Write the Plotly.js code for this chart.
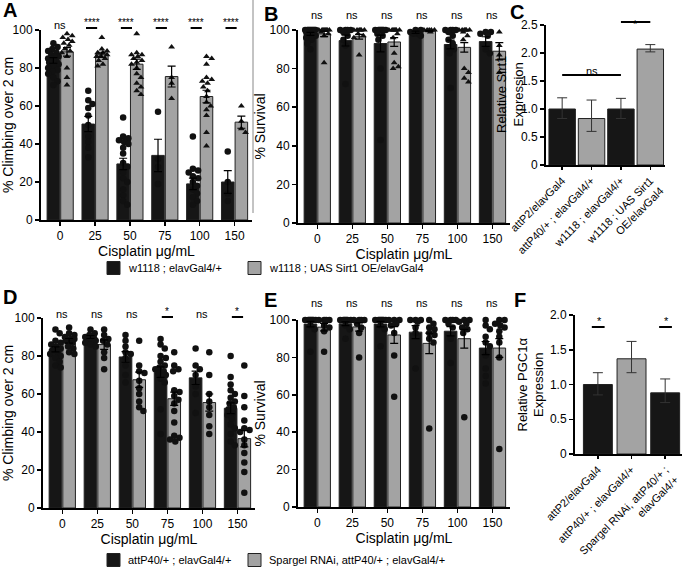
<!DOCTYPE html>
<html>
<head>
<meta charset="utf-8">
<script src="https://cdn.plot.ly/plotly-3.0.1.min.js"></script>
<style>
  body { margin: 0; background: #fff; }
  #chart { width: 688px; height: 570px; }
</style>
</head>
<body>
<div id="chart"></div>
<script>
const doses = ['0', '25', '50', '75', '100', '150'];

// A: climbing, w1118 ; elavGal4/+ vs w1118 ; UAS Sirt1 OE/elavGal4
const climbCtrlMean = [84, 50.5, 29.5, 34, 19, 20];
const climbCtrlSem = [1.5, 4, 3, 8.5, 3, 6];
const climbOeMean = [88.5, 87, 82, 75.5, 65, 51.5];
const climbOeSem = [2.2, 1.3, 2.7, 5.5, 3.3, 3.2];
const climbCtrlPts = [
  [93, 91, 90, 89, 88, 87, 86, 86, 85, 85, 84, 84, 83, 82, 81, 80, 79, 78, 77, 75, 73, 71],
  [68, 63, 61, 59, 55, 50, 44, 41, 38, 33],
  [54, 44, 43, 42, 41, 40, 38, 35, 30, 28, 25, 22, 20, 16, 13, 10, 8],
  [57, 32, 28, 19],
  [44, 27, 26, 25, 23, 22, 20, 18, 16, 14, 12, 10, 8],
  [36, 20, 14, 10]
];
const climbOePts = [
  [98, 97, 96, 95, 94, 93, 92, 90, 89, 88, 86, 80, 75, 71],
  [96, 90, 89, 88, 88, 87, 86, 86, 85, 84, 82, 81],
  [98, 88, 87, 87, 86, 85, 84, 83, 82, 80, 77, 75, 72, 70, 68, 66],
  [91, 75, 72, 64],
  [86, 85, 82, 75, 74, 73, 72, 70, 68, 65, 62, 60, 58, 55, 46, 39],
  [60, 52, 48, 46]
];
const climbSig = ['ns', '****', '****', '****', '****', '****'];

// B: survival, same genotypes
const survCtrlMean = [98, 94.5, 93, 98.8, 92.5, 94];
const survCtrlSem = [0.8, 2.8, 4.3, 0.6, 2.3, 2.5];
const survOeMean = [98, 96.5, 93.8, 99.5, 91, 89];
const survOeSem = [1.4, 1.2, 2.3, 0.3, 2.5, 4.5];
const survCtrlPts = [
  [100, 100, 100, 100, 100, 100, 100, 100, 100, 100, 99, 98, 97, 96, 95, 93, 90],
  [100, 100, 100, 100, 99, 97, 95, 92, 72],
  [100, 100, 100, 100, 100, 100, 100, 100, 98, 97, 95, 80, 43],
  [100, 100, 99, 98, 98, 97],
  [100, 100, 100, 100, 99, 97, 95, 93, 91, 90, 88, 70],
  [99, 99, 98, 97, 90, 88]
];
const survOePts = [
  [100, 100, 100, 100, 100, 100, 100, 100, 99, 98, 97, 83],
  [100, 100, 100, 100, 100, 100, 98, 97, 96, 87],
  [100, 100, 100, 100, 100, 100, 100, 98, 96, 88, 83, 81, 80],
  [100, 100, 100, 100, 100, 99],
  [100, 100, 100, 100, 100, 100, 99, 97, 95, 80, 78, 75, 73],
  [99, 92, 87, 78]
];
const survSig = ['ns', 'ns', 'ns', 'ns', 'ns', 'ns'];

// C: relative Sirt1 expression
const sirtLabels = ['attP2/elavGal4', 'attP40/+ ; elavGal4/+', 'w1118 ; elavGal4/+', 'w1118 ; UAS Sirt1<br>OE/elavGal4'];
const sirtExpr = [1.0, 0.83, 1.0, 2.07];
const sirtErrUp = [0.2, 0.33, 0.19, 0.08];
const sirtErrDown = [0.17, 0.23, 0.17, 0.05];

// D: climbing, attP40/+ ; elavGal4/+ vs Spargel RNAi
const climb2CtrlMean = [83.5, 90, 79.5, 71.5, 68.5, 52.5];
const climb2CtrlSem = [1.3, 0.8, 2.8, 2.8, 3.5, 2.8];
const climb2RnaiMean = [88, 86, 67.5, 57.5, 55.5, 36.5];
const climb2RnaiSem = [1.2, 2.5, 4, 3.5, 4.5, 4.3];
const climb2CtrlPts = [
  [94, 92, 88, 87, 86, 85, 84, 83, 82, 81, 80, 79, 77, 75, 74],
  [94, 92, 91, 90, 90, 89, 88, 87, 86, 85],
  [91, 88, 85, 82, 81, 79, 75, 70, 66],
  [89, 86, 84, 80, 79, 77, 75, 74, 73, 72, 71, 70, 68, 66, 52, 39],
  [84, 75, 73, 70, 64, 60, 50],
  [80, 69, 65, 62, 60, 58, 56, 55, 53, 52, 50, 49, 47, 44, 42, 39, 35, 33]
];
const climb2RnaiPts = [
  [95, 92, 91, 90, 89, 89, 88, 87, 85, 84, 82, 81],
  [94, 91, 89, 88, 86, 82, 79, 73],
  [88, 75, 72, 71, 67, 63, 60, 56, 53, 51],
  [82, 75, 73, 72, 62, 61, 59, 57, 55, 51, 45, 38, 37, 36, 35],
  [82, 70, 60, 56, 53, 49, 43, 39],
  [75, 59, 53, 46, 42, 41, 40, 36, 33, 29, 24, 19, 8]
];
const climb2Sig = ['ns', 'ns', 'ns', '*', 'ns', '*'];

// E: survival, attP40/+ ; elavGal4/+ vs Spargel RNAi
const surv2CtrlMean = [97.8, 98, 97.8, 93.5, 94, 85];
const surv2CtrlSem = [1.5, 1.0, 1.5, 3.5, 2.5, 3.5];
const surv2RnaiMean = [96.2, 96.3, 92, 87.5, 90, 85];
const surv2RnaiSem = [2.0, 2.2, 4.5, 5.5, 5.0, 5.0];
const surv2CtrlPts = [
  [100, 100, 100, 100, 100, 100, 100, 100, 97, 95, 83],
  [100, 100, 100, 100, 100, 100, 100, 97, 95, 90],
  [100, 100, 100, 100, 100, 100, 100, 100, 97, 95, 86],
  [100, 100, 100, 99, 96, 93, 74],
  [100, 100, 100, 100, 98, 96, 90, 77],
  [100, 97, 95, 91, 88, 86, 81, 74, 70, 66]
];
const surv2RnaiPts = [
  [100, 100, 100, 100, 97, 96, 94, 83],
  [100, 100, 100, 100, 98, 96, 93, 80],
  [100, 100, 100, 98, 97, 93, 81, 59],
  [100, 98, 96, 95, 93, 92, 90, 88, 42],
  [100, 100, 99, 98, 96, 95, 93, 48],
  [100, 100, 98, 97, 96, 94, 91, 88, 80, 31]
];
const surv2Sig = ['ns', 'ns', 'ns', 'ns', 'ns', 'ns'];

// F: relative PGC1a expression
const pgcLabels = ['attP2/elavGal4', 'attP40/+ ; elavGal4/+', 'Spargel RNAi, attP40/+ ;<br>elavGal4/+'];
const pgcExpr = [1.0, 1.37, 0.88];
const pgcErrUp = [0.17, 0.25, 0.2];
const pgcErrDown = [0.15, 0.2, 0.14];

const legendTop = ['w1118 ; elavGal4/+', 'w1118 ; UAS Sirt1 OE/elavGal4'];
const legendBottom = ['attP40/+ ; elavGal4/+', 'Spargel RNAi, attP40/+ ; elavGal4/+'];

const W = 688, H = 570;
const FONT = 'Liberation Sans, Arial, Helvetica, sans-serif';
const DARK = '#161616';
const GRAY = '#a3a3a3';
const fx = px => px / W;
const fy = py => 1 - py / H;
const font = (size, extra) => Object.assign({ family: FONT, size: size, color: '#000' }, extra || {});

// pixel boxes of the plot areas [left, top, right, bottom]
const boxes = {
  A: [41, 30, 252, 220],
  B: [298, 30, 510, 223],
  C: [546, 25, 665, 165],
  D: [43, 318, 255, 508],
  E: [298, 320, 510, 507],
  F: [575, 315, 682, 454]
};
const doseRange = [-0.55, 5.5];

const traces = [];
const layout = {
  width: W,
  height: H,
  margin: { l: 0, r: 0, t: 0, b: 0 },
  paper_bgcolor: '#fff',
  plot_bgcolor: 'rgba(0,0,0,0)',
  font: font(12),
  barmode: 'overlay',
  showlegend: false,
  annotations: [],
  shapes: []
};

function axisBase() {
  return {
    showline: true, linecolor: '#000', linewidth: 2,
    ticks: 'outside', ticklen: 4, tickwidth: 1.5, tickcolor: '#000',
    showgrid: false, zeroline: false, fixedrange: true, automargin: false,
    tickfont: font(12)
  };
}

// spread points sideways so they do not sit on top of each other
function swarm(vals, center, pxX, pxY, diam, halfW) {
  const order = vals.map((v, i) => i).sort((a, b) => vals[b] - vals[a]);
  const placed = [];
  const xs = new Array(vals.length);
  const step = 0.03;
  const cands = [0];
  for (let k = 1; k * step <= halfW; k++) cands.push(k * step, -k * step);
  order.forEach(i => {
    let best = 0, bestD = -1;
    for (const c of cands) {
      let dmin = Infinity;
      placed.forEach(p => {
        const d = Math.hypot((c - p[0]) * pxX, (vals[i] - p[1]) * pxY);
        if (d < dmin) dmin = d;
      });
      if (dmin >= diam) { best = c; break; }
      if (dmin > bestD) { bestD = dmin; best = c; }
    }
    placed.push([best, vals[i]]);
    xs[i] = center + best;
  });
  return xs;
}

function dosePanel(n, box, s1, s2, opts) {
  const xa = 'x' + n, ya = 'y' + n;
  const pxX = (box[2] - box[0]) / (doseRange[1] - doseRange[0]);
  const pxY = (box[3] - box[1]) / 100;
  const series = [
    { s: s1, off: -0.195, color: DARK, symbol: 'circle' },
    { s: s2, off: 0.195, color: GRAY, symbol: opts.symbol2 }
  ];

  series.forEach(g => {
    traces.push({
      type: 'bar', xaxis: xa, yaxis: ya,
      x: doses.map((d, i) => i + g.off), y: g.s.mean, width: 0.36,
      showlegend: false,
      marker: { color: g.color, line: { color: '#222', width: 1 } },
      hoverinfo: 'skip'
    });
  });

  series.forEach(g => {
    const xs = [], ys = [];
    g.s.pts.forEach((vals, i) => {
      swarm(vals, i + g.off, pxX, pxY, 5.5, 0.15).forEach((x, k) => {
        xs.push(x);
        ys.push(vals[k]);
      });
    });
    traces.push({
      type: 'scatter', mode: 'markers', xaxis: xa, yaxis: ya,
      x: xs, y: ys, showlegend: false, cliponaxis: false,
      marker: { symbol: g.symbol, size: g.symbol === 'circle' ? 6.5 : 6, color: '#111' },
      hoverinfo: 'skip'
    });
  });

  series.forEach(g => {
    traces.push({
      type: 'scatter', mode: 'markers', xaxis: xa, yaxis: ya,
      x: doses.map((d, i) => i + g.off), y: g.s.mean, showlegend: false,
      marker: { size: 1, opacity: 0 },
      error_y: { type: 'data', array: g.s.sem, visible: true, color: '#000', thickness: 1.2, width: 4 },
      hoverinfo: 'skip'
    });
  });

  layout['xaxis' + n] = Object.assign(axisBase(), {
    domain: [fx(box[0]), fx(box[2])], anchor: ya, range: doseRange,
    tickvals: doses.map((d, i) => i), ticktext: doses,
    title: { text: 'Cisplatin μg/mL', font: font(14), standoff: 0 }
  });
  layout['yaxis' + n] = Object.assign(axisBase(), {
    domain: [fy(box[3]), fy(box[1])], anchor: xa, range: [0, 100],
    tickvals: [0, 20, 40, 60, 80, 100],
    title: { text: opts.ytitle, font: font(14), standoff: 1 }
  });

  // significance marks above each dose
  opts.sig.forEach((txt, i) => {
    const star = txt !== 'ns';
    const shift = star ? (opts.sigShift || 0) : 0;
    layout.annotations.push({
      xref: xa, yref: 'paper', x: i + shift, y: fy(opts.sigY - (star ? 3 : 0)),
      text: txt, showarrow: false, font: font(star ? 10 : 11),
      xanchor: 'center', yanchor: 'middle'
    });
    if (star) {
      layout.shapes.push({
        type: 'line', xref: xa, yref: 'paper',
        x0: i + shift - 0.16, x1: i + shift + 0.16,
        y0: fy(opts.sigY + 3), y1: fy(opts.sigY + 3),
        line: { color: '#000', width: 2 }
      });
    }
  });
}

function exprPanel(n, box, labels, vals, up, down, colors, opts) {
  const xa = 'x' + n, ya = 'y' + n;
  traces.push({
    type: 'bar', xaxis: xa, yaxis: ya,
    x: labels.map((l, i) => i), y: vals, width: opts.barWidth,
    showlegend: false,
    marker: { color: colors, line: { color: '#222', width: 1 } },
    error_y: { type: 'data', array: up, arrayminus: down, visible: true, color: '#333', thickness: 1, width: 5 },
    hoverinfo: 'skip'
  });
  layout['xaxis' + n] = Object.assign(axisBase(), {
    domain: [fx(box[0]), fx(box[2])], anchor: ya, range: opts.xrange,
    tickvals: labels.map((l, i) => i), ticktext: labels,
    tickangle: -45, tickfont: font(11), ticklen: 3
  });
  layout['yaxis' + n] = Object.assign(axisBase(), {
    domain: [fy(box[3]), fy(box[1])], anchor: xa, range: [0, opts.ymax],
    tickvals: opts.yticks, ticktext: opts.yticks.map(v => v === 0 ? '0' : v.toFixed(1))
  });
  // y title as a rotated note, so it can sit close to the tick labels
  layout.annotations.push({
    xref: 'paper', yref: 'paper', x: fx(opts.titleX), y: fy((box[1] + box[3]) / 2),
    text: opts.ytitle, textangle: -90, showarrow: false, font: font(13),
    xanchor: 'center', yanchor: 'middle'
  });
}

dosePanel(1, boxes.A,
  { mean: climbCtrlMean, sem: climbCtrlSem, pts: climbCtrlPts },
  { mean: climbOeMean, sem: climbOeSem, pts: climbOePts },
  { ytitle: '% Climbing over 2 cm', symbol2: 'triangle-up', sig: climbSig, sigY: 25, sigShift: -0.1 });

dosePanel(2, boxes.B,
  { mean: survCtrlMean, sem: survCtrlSem, pts: survCtrlPts },
  { mean: survOeMean, sem: survOeSem, pts: survOePts },
  { ytitle: '% Survival', symbol2: 'triangle-up', sig: survSig, sigY: 15 });

exprPanel(3, boxes.C, sirtLabels, sirtExpr, sirtErrUp, sirtErrDown, [DARK, GRAY, DARK, GRAY],
  { xrange: [-0.55, 3.5], barWidth: 0.9, ymax: 2.5, yticks: [0, 0.5, 1, 1.5, 2, 2.5], ytitle: 'Relative Sirt1<br>Expression', titleX: 510 });

dosePanel(4, boxes.D,
  { mean: climb2CtrlMean, sem: climb2CtrlSem, pts: climb2CtrlPts },
  { mean: climb2RnaiMean, sem: climb2RnaiSem, pts: climb2RnaiPts },
  { ytitle: '% Climbing over 2 cm', symbol2: 'circle', sig: climb2Sig, sigY: 314 });

dosePanel(5, boxes.E,
  { mean: surv2CtrlMean, sem: surv2CtrlSem, pts: surv2CtrlPts },
  { mean: surv2RnaiMean, sem: surv2RnaiSem, pts: surv2RnaiPts },
  { ytitle: '% Survival', symbol2: 'circle', sig: surv2Sig, sigY: 303 });

exprPanel(6, boxes.F, pgcLabels, pgcExpr, pgcErrUp, pgcErrDown, [DARK, GRAY, DARK],
  { xrange: [-0.68, 2.5], barWidth: 0.86, ymax: 2.0, yticks: [0, 0.5, 1, 1.5, 2], ytitle: 'Relative PGC1α<br>Expression', titleX: 530 });

// significance in C: ns over the three controls, * for the overexpression
layout.annotations.push(
  { xref: 'x3', yref: 'paper', x: 1, y: fy(63), text: 'ns', showarrow: false, font: font(11) },
  { xref: 'x3', yref: 'paper', x: 2.5, y: fy(16), text: '*', showarrow: false, font: font(11) }
);
layout.shapes.push(
  { type: 'line', xref: 'x3', yref: 'paper', x0: 0, x1: 2, y0: fy(75), y1: fy(75), line: { color: '#000', width: 2 } },
  { type: 'line', xref: 'x3', yref: 'paper', x0: 2, x1: 3, y0: fy(22), y1: fy(22), line: { color: '#000', width: 2 } }
);

// significance in F
[0, 2].forEach(i => {
  layout.annotations.push({ xref: 'x6', yref: 'paper', x: i + 0.05, y: fy(321), text: '*', showarrow: false, font: font(11) });
  layout.shapes.push({ type: 'line', xref: 'x6', yref: 'paper', x0: i - 0.18, x1: i + 0.2, y0: fy(327), y1: fy(327), line: { color: '#000', width: 2 } });
});

// legends, one row under each line of panels
[[legendTop, 268], [legendBottom, 560]].forEach(row => {
  const names = row[0], cy = row[1];
  [[107, DARK], [248, GRAY]].forEach((item, k) => {
    layout.shapes.push({
      type: 'rect', xref: 'paper', yref: 'paper',
      x0: fx(item[0]), x1: fx(item[0] + 13), y0: fy(cy + 6.5), y1: fy(cy - 6.5),
      fillcolor: item[1], line: { color: '#222', width: 1 }
    });
    layout.annotations.push({
      xref: 'paper', yref: 'paper', x: fx(item[0] + 19), y: fy(cy),
      xanchor: 'left', yanchor: 'middle', text: names[k], showarrow: false, font: font(11)
    });
  });
});

// thin frame line between A and B
layout.shapes.push({ type: 'line', xref: 'paper', yref: 'paper', x0: fx(253), x1: fx(253), y0: fy(213), y1: 1, line: { color: '#888', width: 1 } });

// panel letters
[['A', 1, 10], ['B', 262, 14], ['C', 508, 12], ['D', 1, 297], ['E', 262, 300], ['F', 512, 300]].forEach(p => {
  layout.annotations.push({
    xref: 'paper', yref: 'paper', x: fx(p[1]), y: fy(p[2]), xanchor: 'left', yanchor: 'middle',
    text: '<b>' + p[0] + '</b>', showarrow: false, font: font(20)
  });
});

Plotly.newPlot('chart', traces, layout, { displayModeBar: false, staticPlot: true });
</script>
</body>
</html>
